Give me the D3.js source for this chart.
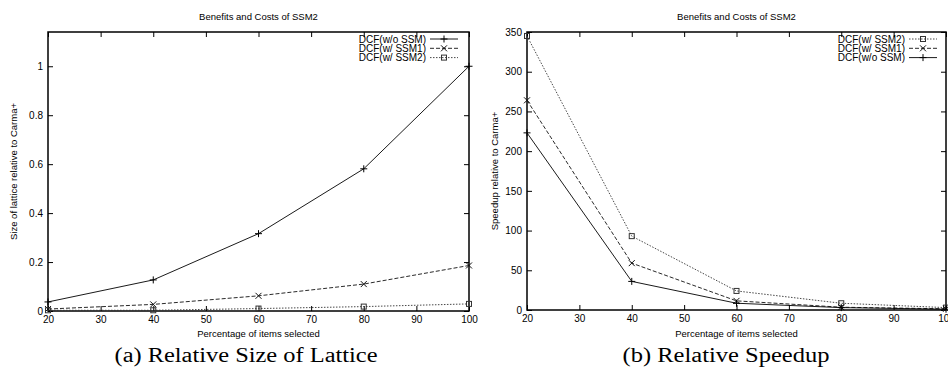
<!DOCTYPE html>
<html><head><meta charset="utf-8">
<script src="https://cdn.jsdelivr.net/npm/d3@7"></script>
<style>
body{margin:0;background:#fff;}
svg{display:block;}
text{font-family:"Liberation Sans",Arial,sans-serif;fill:#000;}
.cap{font-family:"Liberation Serif","DejaVu Serif",serif;}
</style></head>
<body>
<svg id="c" width="948" height="368"></svg>
<script>
// ---- data ----
const categories = [20, 40, 60, 80, 100];
const xTicks = [20, 30, 40, 50, 60, 70, 80, 90, 100];
const sizeTicks = [0, 0.2, 0.4, 0.6, 0.8, 1];
const speedTicks = [0, 50, 100, 150, 200, 250, 300, 350];
const sizeWoSSM = [0.037, 0.127, 0.316, 0.581, 1.0];
const sizeSSM1 = [0.008, 0.027, 0.062, 0.110, 0.186];
const sizeSSM2 = [0.003, 0.003, 0.010, 0.018, 0.029];
const speedSSM2 = [345, 93, 24, 8.5, 3];
const speedSSM1 = [264, 59, 11.5, 3.5, 1.5];
const speedWoSSM = [223, 36, 8.5, 3, 1];
const seriesNames = {wo: "DCF(w/o SSM)", s1: "DCF(w/ SSM1)", s2: "DCF(w/ SSM2)"};

const svg = d3.select("#c");
const styles = {
  wo: {dash: null, color: "#000", marker: "plus"},
  s1: {dash: "4,2", color: "#111", marker: "cross"},
  s2: {dash: "1.5,1.5", color: "#333", marker: "square"}
};

function marker(g, type, x, y, color) {
  if (type === "plus") {
    g.append("path").attr("d", `M${x-3.5},${y}H${x+3.5}M${x},${y-3.5}V${y+3.5}`)
      .attr("stroke", color).attr("stroke-width", 1).attr("fill", "none");
  } else if (type === "cross") {
    g.append("path").attr("d", `M${x-3},${y-3}L${x+3},${y+3}M${x-3},${y+3}L${x+3},${y-3}`)
      .attr("stroke", color).attr("stroke-width", 1).attr("fill", "none");
  } else {
    g.append("rect").attr("x", x-2.5).attr("y", y-2.5).attr("width", 5).attr("height", 5)
      .attr("stroke", color).attr("stroke-width", 1).attr("fill", "none");
  }
}

function chart(opt) {
  const g = svg.append("g");
  const x = d3.scaleLinear().domain([20, 100]).range([opt.x0, opt.x1]);
  const y = d3.scaleLinear().domain([0, opt.ymax]).range([opt.y1, opt.y0]);
  // frame
  g.append("rect").attr("x", opt.x0).attr("y", opt.y0)
    .attr("width", opt.x1 - opt.x0).attr("height", opt.y1 - opt.y0)
    .attr("fill", "none").attr("stroke", "#000").attr("stroke-width", 1.5);
  // axes
  const ax = g.append("g").attr("transform", `translate(0,${opt.y1})`)
    .call(d3.axisBottom(x).tickValues(xTicks).tickSizeInner(-5).tickSizeOuter(0).tickPadding(5));
  const axTop = g.append("g").attr("transform", `translate(0,${opt.y0})`)
    .call(d3.axisTop(x).tickValues(xTicks).tickSizeInner(-5).tickSizeOuter(0).tickFormat(""));
  const ay = g.append("g").attr("transform", `translate(${opt.x0},0)`)
    .call(d3.axisLeft(y).tickValues(opt.yTicks).tickSizeInner(-5).tickSizeOuter(0).tickPadding(5).tickFormat(opt.fmt));
  const ayR = g.append("g").attr("transform", `translate(${opt.x1},0)`)
    .call(d3.axisRight(y).tickValues(opt.yTicks).tickSizeInner(-5).tickSizeOuter(0).tickFormat(""));
  [ax, axTop, ay, ayR].forEach(a => {
    a.select(".domain").remove();
    a.selectAll("line").attr("stroke", "#000");
    a.selectAll("text").style("font-family", "Liberation Sans, Arial, sans-serif").style("font-size", "10px").attr("fill", "#000");
  });
  // lines
  opt.series.forEach(s => {
    const st = styles[s.key];
    const pts = categories.map((c, i) => [x(c), y(s.values[i])]);
    g.append("path").attr("d", d3.line()(pts)).attr("fill", "none")
      .attr("stroke", st.color).attr("stroke-width", 0.9)
      .attr("stroke-dasharray", st.dash);
    pts.forEach(p => marker(g, st.marker, p[0], p[1], st.color));
  });
  // legend
  opt.legend.forEach((k, i) => {
    const st = styles[k];
    const ly = opt.legY + i * 9.3;
    g.append("text").attr("x", opt.legX).attr("y", ly + 3.5).attr("text-anchor", "end")
      .style("font-size", "10px").text(seriesNames[k]);
    g.append("line").attr("x1", opt.legX + 4).attr("x2", opt.legX + 32).attr("y1", ly).attr("y2", ly)
      .attr("stroke", st.color).attr("stroke-width", 0.9).attr("stroke-dasharray", st.dash);
    marker(g, st.marker, opt.legX + 18, ly, st.color);
  });
  // title & axis labels
  const cx = (opt.x0 + opt.x1) / 2;
  g.append("text").attr("x", cx).attr("y", 20).attr("text-anchor", "middle")
    .style("font-size", "9.5px").text("Benefits and Costs of SSM2");
  g.append("text").attr("x", cx).attr("y", 337).attr("text-anchor", "middle")
    .style("font-size", "9.5px").text("Percentage of items selected");
  g.append("text").attr("transform", `translate(${opt.ylabX},${(opt.y0 + opt.y1) / 2}) rotate(-90)`)
    .attr("text-anchor", "middle").style("font-size", "9.5px").text(opt.ylab);
  g.append("text").attr("class", "cap").attr("x", opt.capX).attr("y", 362)
    .attr("text-anchor", "middle").style("font-size", "20px")
    .attr("textLength", opt.capW).attr("lengthAdjust", "spacingAndGlyphs").text(opt.caption);
}

chart({
  x0: 48, x1: 469, y0: 32, y1: 311, ymax: 1.14, yTicks: sizeTicks,
  fmt: d => d3.format("~g")(d),
  series: [{key: "wo", values: sizeWoSSM}, {key: "s1", values: sizeSSM1}, {key: "s2", values: sizeSSM2}],
  legend: ["wo", "s1", "s2"], legX: 426, legY: 39,
  ylab: "Size of lattice relative to Carma+", ylabX: 17,
  caption: "(a) Relative Size of Lattice", capX: 246, capW: 263
});
chart({
  x0: 527, x1: 946, y0: 32, y1: 310, ymax: 350, yTicks: speedTicks,
  fmt: d => d,
  series: [{key: "s2", values: speedSSM2}, {key: "s1", values: speedSSM1}, {key: "wo", values: speedWoSSM}],
  legend: ["s2", "s1", "wo"], legX: 905, legY: 39,
  ylab: "Speedup relative to Carma+", ylabX: 498,
  caption: "(b) Relative Speedup", capX: 726, capW: 207
});
</script>
</body></html>
